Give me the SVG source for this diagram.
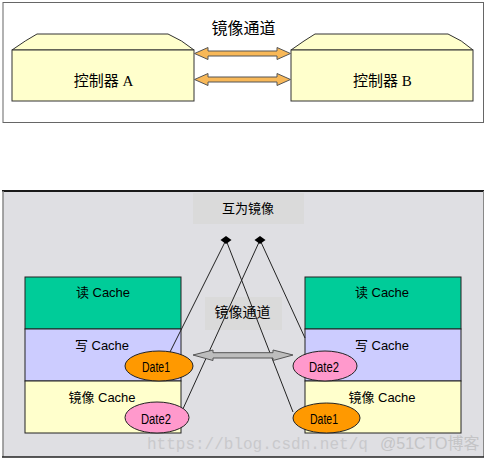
<svg xmlns="http://www.w3.org/2000/svg" width="488" height="463" viewBox="0 0 488 463">
<style>
.cjk{font-family:"Liberation Serif","Noto Sans CJK SC",serif;fill:#000;text-anchor:middle;dominant-baseline:central}
.lat{font-family:"Liberation Sans","Noto Sans CJK SC",sans-serif;fill:#000;text-anchor:middle;dominant-baseline:central}
.dt{font-family:"Liberation Sans",sans-serif;fill:#000;font-size:14px}
.ctrl{fill:#FFFFCC;stroke:#333;stroke-width:1}
.oarrow{fill:#F8B858;stroke:#555;stroke-width:1}
.garrow{fill:#BDBDBD;stroke:#555;stroke-width:1}
.line{fill:none;stroke:#222;stroke-width:1}
.dia{fill:#000}
.wm{font-family:"Liberation Mono",monospace;fill:#C9C9CC;font-size:16px}
</style>
<!-- top panel -->
<rect x="3" y="2.5" width="480.5" height="120" fill="#fff" stroke="#666" stroke-width="1"/>
<g id="ctrlA">
<path class="ctrl" d="M12,50 Q26,40 37,34 L168,34 Q182,40 194,50 Z"/>
<rect class="ctrl" x="12" y="50" width="182" height="51"/>
<text class="cjk" x="103.5" y="81" font-size="15">控制器 A</text>
</g>
<g id="ctrlB">
<path class="ctrl" d="M291,50 Q305,40 315,34 L448,34 Q462,40 473,50 Z"/>
<rect class="ctrl" x="291" y="50" width="182" height="51"/>
<text class="cjk" x="382.5" y="81" font-size="15">控制器 B</text>
</g>
<g id="topLabel">
<text class="cjk" x="243.5" y="28" font-size="16">镜像通道</text>
</g>
<g id="top-connectors">
<path class="oarrow" d="M194.5,53.5 L208,47.5 L208,51 L277,51 L277,47.5 L290.5,53.5 L277,59.5 L277,56 L208,56 L208,59.5 Z"/>
<path class="oarrow" d="M194.5,79.5 L208,73.5 L208,77 L277,77 L277,73.5 L290.5,79.5 L277,85.5 L277,82 L208,82 L208,85.5 Z"/>
</g>
<!-- bottom panel -->
<rect x="3" y="191" width="480" height="266" fill="#DFDFE3"/>
<line x1="2" y1="191" x2="484" y2="191" stroke="#1a1a1a" stroke-width="2"/>
<line x1="3" y1="191" x2="3" y2="457" stroke="#888" stroke-width="1.5"/>
<line x1="483.5" y1="191" x2="483.5" y2="457" stroke="#888" stroke-width="1"/>
<line x1="2" y1="457" x2="484" y2="457" stroke="#222" stroke-width="1.5"/>
<g id="mirrorLabel">
<rect x="193" y="193" width="111" height="31" fill="#DADADA"/>
<text class="cjk" x="248" y="208.5" font-size="13">互为镜像</text>
</g>
<g id="leftStack">
<rect x="25" y="277" width="156" height="52" fill="#00CC99" stroke="#222" stroke-width="1"/>
<rect x="25" y="329" width="156" height="52" fill="#CCCCFF" stroke="#222" stroke-width="1"/>
<rect x="25" y="381" width="156" height="52" fill="#FFFFCC" stroke="#222" stroke-width="1"/>
<text class="lat" x="103" y="292" font-size="13">读 Cache</text>
<text class="lat" x="102" y="345" font-size="13">写 Cache</text>
<text class="lat" x="102" y="397" font-size="13">镜像 Cache</text>
</g>
<g id="rightStack">
<rect x="305" y="277" width="156" height="52" fill="#00CC99" stroke="#222" stroke-width="1"/>
<rect x="305" y="329" width="156" height="52" fill="#CCCCFF" stroke="#222" stroke-width="1"/>
<rect x="305" y="381" width="156" height="52" fill="#FFFFCC" stroke="#222" stroke-width="1"/>
<text class="lat" x="382" y="292" font-size="13">读 Cache</text>
<text class="lat" x="382" y="345" font-size="13">写 Cache</text>
<text class="lat" x="382" y="397" font-size="13">镜像 Cache</text>
</g>
<g id="channelLabel">
<rect x="205" y="297" width="77" height="33" fill="#DADADA"/>
<text class="cjk" x="242.5" y="312.5" font-size="14">镜像通道</text>
</g>
<g id="connectors">
<path class="line" d="M226,240 L170,352"/>
<path class="line" d="M226,240 L293,412"/>
<path class="line" d="M260,240 L182,411"/>
<path class="line" d="M260,240 L305,338"/>
<path class="dia" d="M220.5,240 L226,236 L231.5,240 L226,244 Z"/>
<path class="dia" d="M254.5,240 L260,236 L265.5,240 L260,244 Z"/>
<path class="garrow" d="M193,355 L213,350 L213,352.7 L273,352.7 L273,350 L293,355 L273,360.5 L273,358 L213,358 L213,360.5 Z"/>
</g>
<g id="L-Date1">
<ellipse cx="159" cy="366" rx="34" ry="15" fill="#FF9900" stroke="#222" stroke-width="1"/>
<text class="dt" x="142" y="372" textLength="28" lengthAdjust="spacingAndGlyphs">Date1</text>
</g>
<g id="L-Date2">
<ellipse cx="157" cy="417.5" rx="32" ry="15.5" fill="#FF99CC" stroke="#222" stroke-width="1"/>
<text class="dt" x="141" y="424" textLength="30" lengthAdjust="spacingAndGlyphs">Date2</text>
</g>
<g id="R-Date2">
<ellipse cx="325" cy="366" rx="32" ry="15" fill="#FF99CC" stroke="#222" stroke-width="1"/>
<text class="dt" x="309" y="372" textLength="30" lengthAdjust="spacingAndGlyphs">Date2</text>
</g>
<g id="R-Date1">
<ellipse cx="326.5" cy="418" rx="33.5" ry="15" fill="#FF9900" stroke="#222" stroke-width="1"/>
<text class="dt" x="310" y="424" textLength="28" lengthAdjust="spacingAndGlyphs">Date1</text>
</g>
<g id="watermark">
<text class="wm" x="147" y="449">https://blog.csdn.net/q</text>
<text x="380" y="449" font-family="Liberation Sans,'Noto Sans CJK SC',sans-serif" font-size="16" fill="#C4C4C6">@51CTO博客</text>
</g>
</svg>
